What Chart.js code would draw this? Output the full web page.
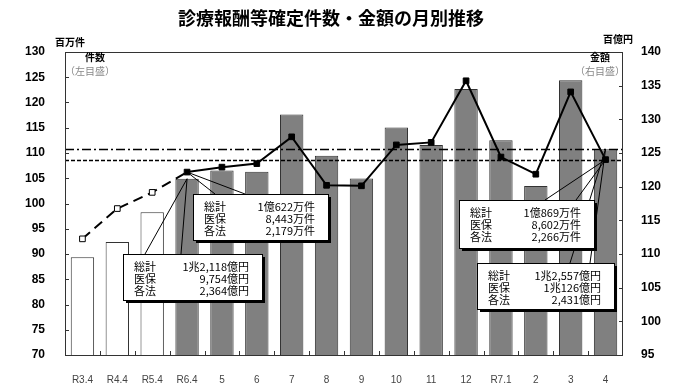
<!DOCTYPE html>
<html lang="ja">
<head>
<meta charset="UTF-8">
<title>診療報酬等確定件数・金額の月別推移</title>
<script src="https://cdn.jsdelivr.net/npm/chart.js"></script>
<style>
  body { margin: 0; background: #fff; }
  #wrap { width: 680px; height: 388px; }
</style>
</head>
<body>
<div id="wrap"><canvas id="chart" width="680" height="388"></canvas></div>
<script>
// 月
const months = ['R3.4', 'R4.4', 'R5.4', 'R6.4', '5', '6', '7', '8', '9', '10', '11', '12', 'R7.1', '2', '3', '4'];
// 金額（百億円、右目盛）
const amounts = [109.5, 111.8, 116.2, 121.18, 122.4, 122.2, 130.7, 124.6, 121.2, 128.8, 126.2, 134.5, 126.9, 120.1, 135.8, 125.57];
// 件数（百万件、左目盛）
const counts = [93.0, 99.0, 102.2, 106.22, 107.2, 107.9, 113.2, 103.6, 103.5, 111.6, 112.1, 124.3, 109.2, 105.8, 122.1, 108.69];
// 目盛
const leftAxis = [70, 130, 5];
const rightAxis = [95, 140, 5];
// 吹き出しの文言
const rowNames = ['総計', '医保', '各法'];
const countPrev = ['1億622万件', '8,443万件', '2,179万件'];
const amountPrev = ['1兆2,118億円', '9,754億円', '2,364億円'];
const countNow = ['1億869万件', '8,602万件', '2,266万件'];
const amountNow = ['1兆2,557億円', '1兆126億円', '2,431億円'];

const JP = '"Noto Sans CJK JP", "Noto Sans", sans-serif';
const NUM = '"Liberation Sans", Arial, sans-serif';

function callout(ctx, apex, base, box, names, values) {
    // 引き出し線
    ctx.strokeStyle = '#000';
    ctx.lineWidth = 1;
    ctx.beginPath();
    ctx.moveTo(apex.x, apex.y); ctx.lineTo(base[0], box.y);
    ctx.moveTo(apex.x, apex.y); ctx.lineTo(base[1], box.y);
    ctx.stroke();
    // 影
    ctx.fillStyle = '#000';
    ctx.fillRect(box.x + 3, box.y + 3, box.w, box.h);
    ctx.fillStyle = '#fff';
    ctx.fillRect(box.x, box.y, box.w, box.h);
    ctx.strokeRect(box.x + 0.5, box.y + 0.5, box.w, box.h);
    ctx.font = '11px ' + JP;
    ctx.fillStyle = '#000';
    ctx.textBaseline = 'middle';
    for (let i = 0; i < 3; i++) {
        const y = box.y + 13 + i * 12;
        ctx.textAlign = 'left';
        ctx.fillText(names[i], box.x + 11, y);
        ctx.textAlign = 'right';
        ctx.fillText(values[i], box.x + box.w - 13, y);
    }
}

const decor = {
    id: 'decor',
    afterDatasetsDraw(chart) {
        const ctx = chart.ctx;
        const a = chart.chartArea;
        const sx = chart.scales.x, yl = chart.scales.y, yr = chart.scales.y1;
        const last = months.length - 1;
        ctx.save();

        // 基準線
        ctx.strokeStyle = '#000';
        ctx.lineWidth = 1.3;
        let yy = Math.round(yr.getPixelForValue(amounts[last])) + 0.5;
        ctx.setLineDash([9, 3, 2, 3]);
        ctx.beginPath(); ctx.moveTo(a.left, yy); ctx.lineTo(a.right, yy); ctx.stroke();
        yy = Math.round(yl.getPixelForValue(counts[last])) + 0.5;
        ctx.setLineDash([4, 2]);
        ctx.beginPath(); ctx.moveTo(a.left, yy); ctx.lineTo(a.right, yy); ctx.stroke();
        ctx.setLineDash([]);

        // 枠と目盛線
        ctx.strokeStyle = '#333';
        ctx.lineWidth = 1;
        ctx.strokeRect(a.left + 0.5, a.top + 0.5, a.right - a.left - 1, a.bottom - a.top);
        ctx.beginPath();
        for (let v = leftAxis[0]; v <= leftAxis[1]; v += leftAxis[2]) {
            const p = Math.round(yl.getPixelForValue(v)) + 0.5;
            ctx.moveTo(a.left, p); ctx.lineTo(a.left + 4, p);
        }
        for (let v = rightAxis[0]; v <= rightAxis[1]; v += rightAxis[2]) {
            const p = Math.round(yr.getPixelForValue(v)) + 0.5;
            ctx.moveTo(a.right, p); ctx.lineTo(a.right - 4, p);
        }
        for (let i = 1; i < months.length; i++) {
            const p = Math.round((sx.getPixelForValue(i - 1) + sx.getPixelForValue(i)) / 2) + 0.5;
            ctx.moveTo(p, a.bottom); ctx.lineTo(p, a.bottom - 4);
        }
        ctx.stroke();

        // 吹き出し
        const pts = chart.getDatasetMeta(1).data;
        const bars = chart.getDatasetMeta(0).data;
        callout(ctx, { x: bars[3].x, y: bars[3].y }, [145, 181],
            { x: 123, y: 254, w: 139, h: 46 }, rowNames, amountPrev);
        callout(ctx, { x: pts[3].x, y: pts[3].y }, [215, 245],
            { x: 193, y: 194, w: 135, h: 46 }, rowNames, countPrev);
        callout(ctx, { x: bars[last].x, y: bars[last].y }, [570, 590],
            { x: 477, y: 263, w: 137, h: 46 }, rowNames, amountNow);
        callout(ctx, { x: pts[last].x, y: pts[last].y }, [545, 576],
            { x: 459, y: 200, w: 135, h: 48 }, rowNames, countNow);

        // タイトル・単位
        ctx.fillStyle = '#000';
        ctx.textBaseline = 'middle';
        ctx.textAlign = 'center';
        ctx.font = 'bold 18px ' + JP;
        ctx.fillText('診療報酬等確定件数・金額の月別推移', 331, 18);
        ctx.font = 'bold 10px ' + JP;
        ctx.fillText('百万件', 70, 42);
        ctx.fillText('百億円', 618, 39);
        ctx.fillText('件数', 95, 57);
        ctx.fillText('金額', 600, 57);
        ctx.font = '10px ' + JP;
        ctx.fillStyle = '#888';
        ctx.fillText('（左目盛）', 90, 71);
        ctx.fillText('（右目盛）', 600, 71);
        ctx.restore();
    }
};

const ctx = document.getElementById('chart').getContext('2d');
new Chart(ctx, {
    data: {
        labels: months,
        datasets: [{
            type: 'bar',
            data: amounts,
            yAxisID: 'y1',
            backgroundColor: amounts.map((v, i) => i < 3 ? '#fff' : '#808080'),
            borderColor: '#333',
            borderWidth: 1,
            barPercentage: 0.67,
            categoryPercentage: 1,
            order: 1
        }, {
            type: 'line',
            data: counts,
            yAxisID: 'y',
            borderColor: '#000',
            borderWidth: 2,
            tension: 0,
            pointStyle: 'rect',
            pointRadius: 4,
            pointBorderWidth: 1,
            pointBorderColor: '#000',
            pointBackgroundColor: counts.map((v, i) => i < 3 ? '#fff' : '#000'),
            segment: {
                borderDash: c => c.p1DataIndex <= 3 ? [10, 6] : undefined
            },
            order: 0
        }]
    },
    options: {
        responsive: false,
        animation: false,
        layout: { padding: { top: 52, left: 0, right: 0, bottom: 0 } },
        plugins: { legend: { display: false }, tooltip: { enabled: false }, title: { display: false } },
        scales: {
            x: {
                grid: { display: false },
                border: { display: false },
                ticks: { font: { family: NUM, size: 10 }, color: '#444', padding: 11, maxRotation: 0, autoSkip: false },
                afterFit: s => { s.height = 33; }
            },
            y: {
                position: 'left',
                min: leftAxis[0], max: leftAxis[1],
                grid: { display: false },
                border: { display: false },
                ticks: { stepSize: leftAxis[2], padding: 12, color: '#000', font: { family: NUM, size: 12, weight: 'bold' } },
                afterFit: s => { s.width = 65; }
            },
            y1: {
                position: 'right',
                min: rightAxis[0], max: rightAxis[1],
                grid: { display: false },
                border: { display: false },
                ticks: { stepSize: rightAxis[2], padding: 10, color: '#000', font: { family: NUM, size: 12, weight: 'bold' } },
                afterFit: s => { s.width = 57; }
            }
        }
    },
    plugins: [decor]
});
</script>
</body>
</html>
